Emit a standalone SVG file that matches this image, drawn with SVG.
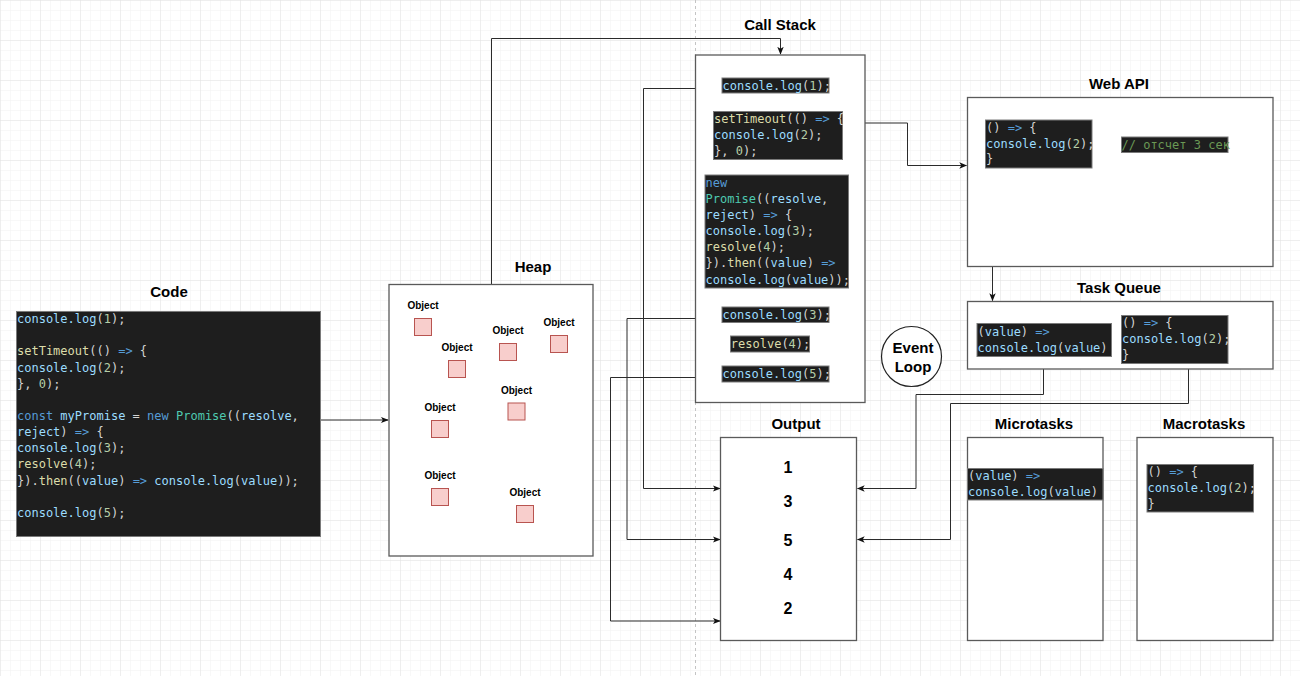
<svg xmlns="http://www.w3.org/2000/svg" width="1300" height="676" viewBox="0 0 1300 676">
<style>
.title{font-family:"Liberation Sans",Arial,sans-serif;font-weight:bold;font-size:15px;fill:#000;text-anchor:middle}
.obj{font-family:"Liberation Sans",Arial,sans-serif;font-weight:bold;font-size:10px;fill:#000;text-anchor:middle}
.num{font-family:"Liberation Sans",Arial,sans-serif;font-weight:bold;font-size:16px;fill:#000;text-anchor:middle}
.box{fill:#fff;stroke:#5a5a5a;stroke-width:1.3}
.code{fill:#1e1e1e;stroke:#7a7a7a;stroke-width:1}
.sq{fill:#f8cecc;stroke:#b85450;stroke-width:1}
.mono{font-family:"DejaVu Sans Mono","Liberation Mono",monospace;font-size:12px;fill:#d4d4d4}
.k{fill:#569cd6}.v{fill:#9cdcfe}.f{fill:#dcdcaa}.t{fill:#4ec9b0}.n{fill:#b5cea8}.c{fill:#6a9955}
.conn path{fill:none;stroke:#2b2b2b;stroke-width:1}
</style>
<defs>
<pattern id="minor" width="10" height="10" patternUnits="userSpaceOnUse">
<path d="M10 0H0V10" fill="none" stroke="#f1f1f1" stroke-width="1"/>
</pattern>
<pattern id="grid" width="40" height="40" patternUnits="userSpaceOnUse">
<rect width="40" height="40" fill="url(#minor)"/>
<path d="M40 0H0V40" fill="none" stroke="#e3e3e3" stroke-width="1"/>
</pattern>
<marker id="arr" viewBox="0 0 10 10" refX="9" refY="5" markerWidth="8" markerHeight="8" markerUnits="userSpaceOnUse" orient="auto">
<path d="M0 1L10 5L0 9L2.5 5Z" fill="#111"/>
</marker>
</defs>
<rect width="1300" height="676" fill="#fff"/>
<rect width="1300" height="676" fill="url(#grid)"/>
<line x1="695.5" y1="0" x2="695.5" y2="676" stroke="#c4c4c4" stroke-width="1" stroke-dasharray="3 3"/>

<g id="connectors" class="conn">
<path d="M320.7 420H388" marker-end="url(#arr)"/>
<path d="M491.5 284V38.5H780.5V54" marker-end="url(#arr)"/>
<path d="M722 88.5H643.5V488.5H720" marker-end="url(#arr)"/>
<path d="M722 318.5H627V539.5H720" marker-end="url(#arr)"/>
<path d="M722 377.5H610.5V621H720" marker-end="url(#arr)"/>
<path d="M843 123H907.5V165.5H966.5" marker-end="url(#arr)"/>
<path d="M992.5 182V300.5" marker-end="url(#arr)"/>
<path d="M1043.5 356.5V394.5H916V488.5H857.5" marker-end="url(#arr)"/>
<path d="M1188.5 363.5V403.5H950.5V539.5H857.5" marker-end="url(#arr)"/>
</g>

<g id="code">
<text class="title" x="169" y="297">Code</text>
<rect class="code" x="16.5" y="311.5" width="304" height="225"/>
<text class="mono" x="17" y="323"><tspan class="v">console.log</tspan>(<tspan class="n">1</tspan>);</text>
<text class="mono" x="17" y="355.3"><tspan class="f">setTimeout</tspan>(() <tspan class="k">=&gt;</tspan> {</text>
<text class="mono" x="17" y="371.5"><tspan class="v">console.log</tspan>(<tspan class="n">2</tspan>);</text>
<text class="mono" x="17" y="387.6">}, <tspan class="n">0</tspan>);</text>
<text class="mono" x="17" y="419.9"><tspan class="k">const</tspan> <tspan class="v">myPromise</tspan> = <tspan class="k">new</tspan> <tspan class="t">Promise</tspan>((<tspan class="v">resolve</tspan>,</text>
<text class="mono" x="17" y="436.1"><tspan class="v">reject</tspan>) <tspan class="k">=&gt;</tspan> {</text>
<text class="mono" x="17" y="452.2"><tspan class="v">console.log</tspan>(<tspan class="n">3</tspan>);</text>
<text class="mono" x="17" y="468.4"><tspan class="f">resolve</tspan>(<tspan class="n">4</tspan>);</text>
<text class="mono" x="17" y="484.5">}).<tspan class="f">then</tspan>((<tspan class="v">value</tspan>) <tspan class="k">=&gt;</tspan> <tspan class="v">console.log</tspan>(<tspan class="v">value</tspan>));</text>
<text class="mono" x="17" y="516.8"><tspan class="v">console.log</tspan>(<tspan class="n">5</tspan>);</text>
</g>

<g id="heap">
<text class="title" x="533" y="272">Heap</text>
<rect class="box" x="389" y="284.5" width="204" height="271.5"/>
<text class="obj" x="423" y="309">Object</text><rect class="sq" x="414.5" y="318.5" width="17" height="17"/>
<text class="obj" x="457" y="351">Object</text><rect class="sq" x="448.5" y="360.5" width="17" height="17"/>
<text class="obj" x="508" y="334">Object</text><rect class="sq" x="499.5" y="343.5" width="17" height="17"/>
<text class="obj" x="559" y="326">Object</text><rect class="sq" x="550.5" y="335.5" width="17" height="17"/>
<text class="obj" x="516.5" y="394">Object</text><rect class="sq" x="508" y="403" width="17" height="17"/>
<text class="obj" x="440" y="411">Object</text><rect class="sq" x="431.5" y="420.5" width="17" height="17"/>
<text class="obj" x="440" y="479">Object</text><rect class="sq" x="431.5" y="488.5" width="17" height="17"/>
<text class="obj" x="525" y="496">Object</text><rect class="sq" x="516.5" y="505.5" width="17" height="17"/>
</g>

<g id="callstack">
<text class="title" x="780" y="30">Call Stack</text>
<rect class="box" x="695.5" y="55" width="169.5" height="347.5"/>
<rect class="code" x="722" y="78" width="107" height="15"/>
<text class="mono" x="722.5" y="89.5"><tspan class="v">console.log</tspan>(<tspan class="n">1</tspan>);</text>
<rect class="code" x="713.5" y="111.5" width="129" height="48"/>
<text class="mono" x="714" y="122.7"><tspan class="f">setTimeout</tspan>(() <tspan class="k">=&gt;</tspan> {</text>
<text class="mono" x="714" y="138.8"><tspan class="v">console.log</tspan>(<tspan class="n">2</tspan>);</text>
<text class="mono" x="714" y="155">}, <tspan class="n">0</tspan>);</text>
<rect class="code" x="705" y="175" width="143.5" height="113"/>
<text class="mono" x="705.5" y="187"><tspan class="k">new</tspan></text>
<text class="mono" x="705.5" y="203"><tspan class="t">Promise</tspan>((<tspan class="v">resolve</tspan>,</text>
<text class="mono" x="705.5" y="218.9"><tspan class="v">reject</tspan>) <tspan class="k">=&gt;</tspan> {</text>
<text class="mono" x="705.5" y="235"><tspan class="v">console.log</tspan>(<tspan class="n">3</tspan>);</text>
<text class="mono" x="705.5" y="251.2"><tspan class="f">resolve</tspan>(<tspan class="n">4</tspan>);</text>
<text class="mono" x="705.5" y="267.3">}).<tspan class="f">then</tspan>((<tspan class="v">value</tspan>) <tspan class="k">=&gt;</tspan></text>
<text class="mono" x="705.5" y="283.6"><tspan class="v">console.log</tspan>(<tspan class="v">value</tspan>));</text>
<rect class="code" x="722" y="307" width="107" height="15.5"/>
<text class="mono" x="722.5" y="318.7"><tspan class="v">console.log</tspan>(<tspan class="n">3</tspan>);</text>
<rect class="code" x="730.5" y="336" width="79" height="16"/>
<text class="mono" x="730.8" y="348"><tspan class="f">resolve</tspan>(<tspan class="n">4</tspan>);</text>
<rect class="code" x="722" y="366" width="107" height="16"/>
<text class="mono" x="722.5" y="378"><tspan class="v">console.log</tspan>(<tspan class="n">5</tspan>);</text>
</g>

<g id="webapi">
<text class="title" x="1119" y="89">Web API</text>
<rect class="box" x="967.5" y="97.5" width="305.5" height="169"/>
<rect class="code" x="985.5" y="120" width="106.5" height="48"/>
<text class="mono" x="986" y="132"><tspan>()</tspan> <tspan class="k">=&gt;</tspan> {</text>
<text class="mono" x="986" y="148"><tspan class="v">console.log</tspan>(<tspan class="n">2</tspan>);</text>
<text class="mono" x="986" y="163">}</text>
<rect class="code" x="1121.5" y="137" width="106.5" height="15.5"/>
<text class="mono c" x="1121.5" y="148.8">// отсчет 3 сек</text>
</g>

<g id="taskqueue">
<text class="title" x="1119" y="293">Task Queue</text>
<rect class="box" x="967.5" y="301.5" width="305.5" height="67.5"/>
<rect class="code" x="977" y="323.5" width="134.5" height="33"/>
<text class="mono" x="977.5" y="336">(<tspan class="v">value</tspan>) <tspan class="k">=&gt;</tspan></text>
<text class="mono" x="977.5" y="352"><tspan class="v">console.log</tspan>(<tspan class="v">value</tspan>)</text>
<rect class="code" x="1121.5" y="315.5" width="106.5" height="48"/>
<text class="mono" x="1122" y="327">() <tspan class="k">=&gt;</tspan> {</text>
<text class="mono" x="1122" y="343"><tspan class="v">console.log</tspan>(<tspan class="n">2</tspan>);</text>
<text class="mono" x="1122" y="359">}</text>
</g>

<g id="eventloop">
<circle cx="911.5" cy="356.5" r="30" fill="#fff" stroke="#222" stroke-width="1.2"/>
<text class="title" x="913" y="352.5">Event</text>
<text class="title" x="913" y="371.5">Loop</text>
</g>

<g id="output">
<text class="title" x="796" y="429">Output</text>
<rect class="box" x="720.5" y="437.5" width="136" height="203"/>
<text class="num" x="788" y="473">1</text>
<text class="num" x="788" y="506.5">3</text>
<text class="num" x="788" y="545.5">5</text>
<text class="num" x="788" y="579.5">4</text>
<text class="num" x="788" y="614">2</text>
</g>

<g id="microtasks">
<text class="title" x="1034" y="429">Microtasks</text>
<rect class="box" x="967.5" y="437.5" width="135.5" height="203"/>
<rect class="code" x="967.5" y="468.5" width="135.5" height="31.5"/>
<text class="mono" x="968" y="480">(<tspan class="v">value</tspan>) <tspan class="k">=&gt;</tspan></text>
<text class="mono" x="968" y="496"><tspan class="v">console.log</tspan>(<tspan class="v">value</tspan>)</text>
</g>

<g id="macrotasks">
<text class="title" x="1204" y="429">Macrotasks</text>
<rect class="box" x="1137" y="437.5" width="136" height="203"/>
<rect class="code" x="1147" y="464.5" width="106.5" height="47.5"/>
<text class="mono" x="1147.5" y="476">() <tspan class="k">=&gt;</tspan> {</text>
<text class="mono" x="1147.5" y="492.3"><tspan class="v">console.log</tspan>(<tspan class="n">2</tspan>);</text>
<text class="mono" x="1147.5" y="508.4">}</text>
</g>
</svg>
